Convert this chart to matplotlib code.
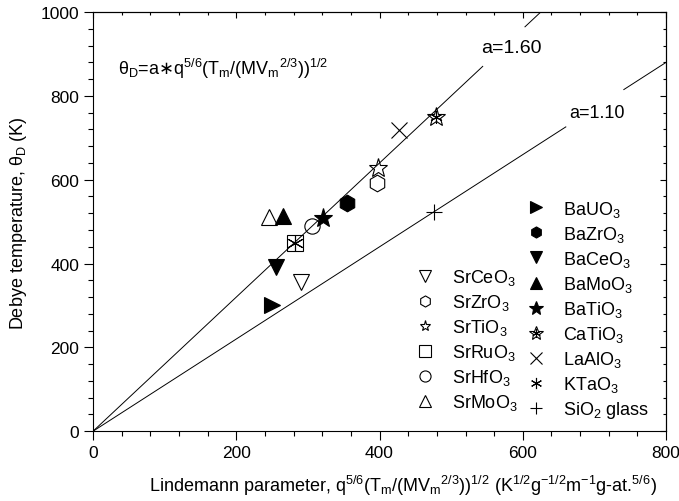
import matplotlib
matplotlib.use("Agg")
import matplotlib.pyplot as plt
from matplotlib.lines import Line2D
from matplotlib.ticker import MultipleLocator

plt.rcParams['font.family'] = ['Liberation Sans', 'DejaVu Sans']
plt.rcParams['mathtext.fontset'] = 'custom'
plt.rcParams['mathtext.rm'] = 'Liberation Sans'
plt.rcParams['mathtext.it'] = 'Liberation Sans:italic'
plt.rcParams['mathtext.sf'] = 'DejaVu Sans'
plt.rcParams['font.size'] = 13

# data: (Lindemann parameter, Debye temperature)
names = ['BaUO$_3$', 'BaZrO$_3$', 'BaCeO$_3$', 'BaMoO$_3$', 'BaTiO$_3$', 'CaTiO$_3$',
         'LaAlO$_3$', 'KTaO$_3$', 'SiO$_2$ glass',
         'SrCeO$_3$', 'SrZrO$_3$', 'SrTiO$_3$', 'SrRuO$_3$', 'SrHfO$_3$', 'SrMoO$_3$']
lind_x = [250, 354, 256, 265, 321, 479, 427, 282, 476,
          291, 397, 398, 282, 305, 246]
debye_y = [300, 544, 391, 514, 509, 749, 719, 450, 522,
           356, 591, 628, 450, 490, 512]
markers = ['>', 'h', 'v', '^', '*', '*', 'x', (6, 2, 0), '+',
           'v', 'h', '*', 's', 'o', '^']
filled = [True, True, True, True, True, False, False, False, False,
          False, False, False, False, False, False]
sizes = [12, 12, 12, 12, 14, 14, 12, 12, 12,
         12, 12, 14, 11, 11, 12]

# fit lines theta = a * x, with a gap where the label sits
slopes = [1.60, 1.10]
gaps = [(544, 603), (660, 741)]
line_labels = ['a=1.60', 'a=1.10']
label_pos = [(584, 916), (703, 760)]
label_size = [14, 13]

fig = plt.figure(figsize=(6.79, 5.02), dpi=100)
ax = fig.add_axes([0.137, 0.139, 0.844, 0.835])

for a, (g0, g1), lab, (lx, ly), fs in zip(slopes, gaps, line_labels, label_pos, label_size):
    xend = min(800, 1000 / a)
    ax.plot([0, g0], [0, a * g0], color='k', lw=0.7)
    ax.plot([g1, xend], [a * g1, a * xend], color='k', lw=0.7)
    ax.text(lx, ly, lab, fontsize=fs, ha='center', va='center')

for x, y, m, f, s in zip(lind_x, debye_y, markers, filled, sizes):
    ax.plot(x, y, marker=m, ms=s, ls='none',
            mfc='k' if f else 'none', mec='k', mew=0.8)
# CaTiO3 star has a cross inside
ax.plot(lind_x[5], debye_y[5], marker=(6, 2, 0), ms=9, color='k', mew=0.8)

ax.text(35, 852, r'θ$_\mathrm{D}$=a$\mathsf{∗}$q$^\mathrm{5/6}$(T$_\mathrm{m}$/(MV$_\mathrm{m}$$^\mathrm{2/3}$))$^\mathrm{1/2}$',
        fontsize=13, ha='left', va='baseline')

# legend: Sr column (open) bottom-aligned, Ba/other column
def handle(m, f, s):
    return Line2D([], [], marker=m, ls='none', ms=s, mfc='k' if f else 'none', mec='k', mew=0.8)

blank = Line2D([], [], ls='none')
sr_h = [handle(markers[i], filled[i], 8) for i in range(9, 15)]
ot_h = [handle(markers[i], filled[i], 8 if markers[i] != '*' else 10) for i in range(0, 9)]
ot_h[5] = (ot_h[5], handle((6, 2, 0), False, 6))
hs = [blank] * 3 + sr_h + ot_h
ls = [''] * 3 + names[9:15] + names[0:9]
ax.legend(hs, ls, ncol=2, loc='lower right', bbox_to_anchor=(0.995, -0.008), frameon=False,
          handlelength=1.0, handletextpad=1.0, columnspacing=0.5, labelspacing=0.28,
          borderpad=0.3, fontsize=13)

ax.set_xlim(0, 800)
ax.set_ylim(0, 1000)
ax.xaxis.set_major_locator(MultipleLocator(200))
ax.xaxis.set_minor_locator(MultipleLocator(40))
ax.yaxis.set_major_locator(MultipleLocator(200))
ax.yaxis.set_minor_locator(MultipleLocator(40))
ax.tick_params(which='major', direction='out', length=6.5, width=0.8, labelsize=12.5)
ax.tick_params(which='minor', direction='out', length=3.5, width=0.8)

top = ax.secondary_xaxis('top')
top.xaxis.set_major_locator(MultipleLocator(200))
top.xaxis.set_minor_locator(MultipleLocator(40))
top.tick_params(which='major', direction='in', length=4, width=0.8, labeltop=False)
top.tick_params(which='minor', direction='in', length=2.5, width=0.8)
right = ax.secondary_yaxis('right')
right.yaxis.set_major_locator(MultipleLocator(200))
right.yaxis.set_minor_locator(MultipleLocator(40))
right.tick_params(which='major', direction='in', length=4, width=0.8, labelright=False)
right.tick_params(which='minor', direction='in', length=2.5, width=0.8)

for sp in ax.spines.values():
    sp.set_linewidth(0.8)

ax.set_ylabel(r'Debye temperature, θ$_\mathrm{D}$ (K)', fontsize=13, labelpad=8)
ax.set_xlabel(r'Lindemann parameter, q$^\mathrm{5/6}$(T$_\mathrm{m}$/(MV$_\mathrm{m}$$^\mathrm{2/3}$))$^\mathrm{1/2}$'
              r' (K$^\mathrm{1/2}$g$^\mathrm{-1/2}$m$^\mathrm{-1}$g-at.$^\mathrm{5/6}$)', fontsize=13)
ax.xaxis.set_label_coords(0.54, -0.1)

fig.savefig('out.png', dpi=100)
